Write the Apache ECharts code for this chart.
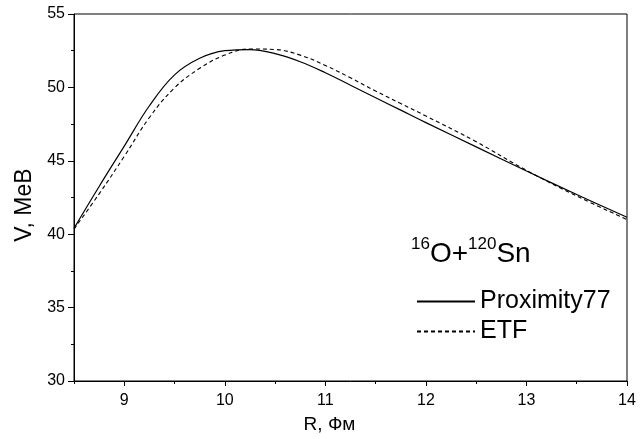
<!DOCTYPE html>
<html>
<head>
<meta charset="utf-8">
<script src="https://cdn.jsdelivr.net/npm/echarts@6/dist/echarts.min.js"></script>
<style>
  html, body { margin: 0; padding: 0; background: #fff; }
  #chart { width: 640px; height: 439px; }
</style>
</head>
<body>
<div id="chart"></div>
<script>
// R, fm
var rValues = [8.5, 8.75, 9.0, 9.25, 9.5, 9.75, 10.0, 10.25, 10.5, 10.75, 11.0, 11.25, 11.5, 11.75, 12.0, 12.5, 13.0, 13.5, 14.0];
// barrier, MeV
var proximity77 = [40.4, 43.25, 46.0, 48.75, 50.85, 51.98, 52.5, 52.58, 52.3, 51.75, 51.0, 50.15, 49.3, 48.45, 47.6, 45.95, 44.3, 42.7, 41.15];
var etf = [40.35, 42.75, 45.3, 47.95, 49.97, 51.3, 52.2, 52.62, 52.58, 52.2, 51.5, 50.65, 49.75, 48.9, 48.05, 46.3, 44.35, 42.6, 41.0];

var xMajorTicks = [9, 10, 11, 12, 13, 14];
var xMinorTicks = [8.5, 9.5, 10.5, 11.5, 12.5, 13.5];

var FONT = "'Liberation Sans', Arial, sans-serif";

function pairs(xs, ys) {
  return xs.map(function (x, i) { return [x, ys[i]]; });
}

var chart = echarts.init(document.getElementById('chart'));

var option = {
  animation: false,
  backgroundColor: '#fff',
  grid: {
    left: 74,
    right: 13,
    top: 14,
    bottom: 56,
    show: true,
    borderColor: '#000',
    borderWidth: 1
  },
  xAxis: [
    {
      type: 'value',
      min: 8.5,
      max: 14,
      name: 'R, Фм',
      nameLocation: 'middle',
      nameGap: 34,
      nameTextStyle: { fontFamily: FONT, fontSize: 19, color: '#000', padding: [0, 42, 0, 0] },
      axisLine: { lineStyle: { color: '#000', width: 1 } },
      axisTick: { show: true, length: 5, customValues: xMajorTicks, lineStyle: { color: '#000' } },
      axisLabel: { customValues: xMajorTicks, fontFamily: FONT, fontSize: 16, color: '#000', margin: 12 },
      splitLine: { show: false }
    },
    {
      type: 'value',
      min: 8.5,
      max: 14,
      position: 'bottom',
      axisLine: { show: false },
      axisTick: { show: true, length: 3, customValues: xMinorTicks, lineStyle: { color: '#000' } },
      axisLabel: { show: false },
      splitLine: { show: false }
    }
  ],
  yAxis: {
    type: 'value',
    min: 30,
    max: 55,
    interval: 5,
    name: 'V, MeB',
    nameLocation: 'middle',
    nameGap: 37,
    nameTextStyle: { fontFamily: FONT, fontSize: 23, color: '#000', padding: [0, 15, 0, 0] },
    axisLine: { show: true, lineStyle: { color: '#000', width: 1 } },
    axisTick: { show: true, length: 6, lineStyle: { color: '#000' } },
    minorTick: { show: true, splitNumber: 2, length: 3, lineStyle: { color: '#000' } },
    axisLabel: { fontFamily: FONT, fontSize: 16, color: '#000', margin: 9 },
    splitLine: { show: false }
  },
  legend: {
    orient: 'vertical',
    left: 411,
    top: 284,
    itemWidth: 58,
    itemHeight: 14,
    itemGap: 5,
    itemStyle: { opacity: 0 },
    textStyle: { fontFamily: FONT, fontSize: 25, color: '#000' },
    data: ['Proximity77', 'ETF']
  },
  graphic: [
    {
      type: 'text',
      left: 411,
      top: 236,
      style: {
        text: '{s|16}{m|O+}{s|120}{m|Sn}',
        font: '28px ' + FONT,
        fill: '#000',
        rich: {
          s: { fontFamily: FONT, fontSize: 17, verticalAlign: 'top', lineHeight: 32, fill: '#000' },
          m: { fontFamily: FONT, fontSize: 28, verticalAlign: 'bottom', lineHeight: 32, fill: '#000' }
        }
      }
    }
  ],
  series: [
    {
      name: 'Proximity77',
      type: 'line',
      data: pairs(rValues, proximity77),
      smooth: 0.4,
      symbol: 'none',
      lineStyle: { color: '#000', width: 1.2, type: 'solid' },
      itemStyle: { color: '#000' }
    },
    {
      name: 'ETF',
      type: 'line',
      data: pairs(rValues, etf),
      smooth: 0.4,
      symbol: 'none',
      lineStyle: { color: '#000', width: 1.1, type: [4, 3] },
      itemStyle: { color: '#000' }
    }
  ]
};

chart.setOption(option);
</script>
</body>
</html>
